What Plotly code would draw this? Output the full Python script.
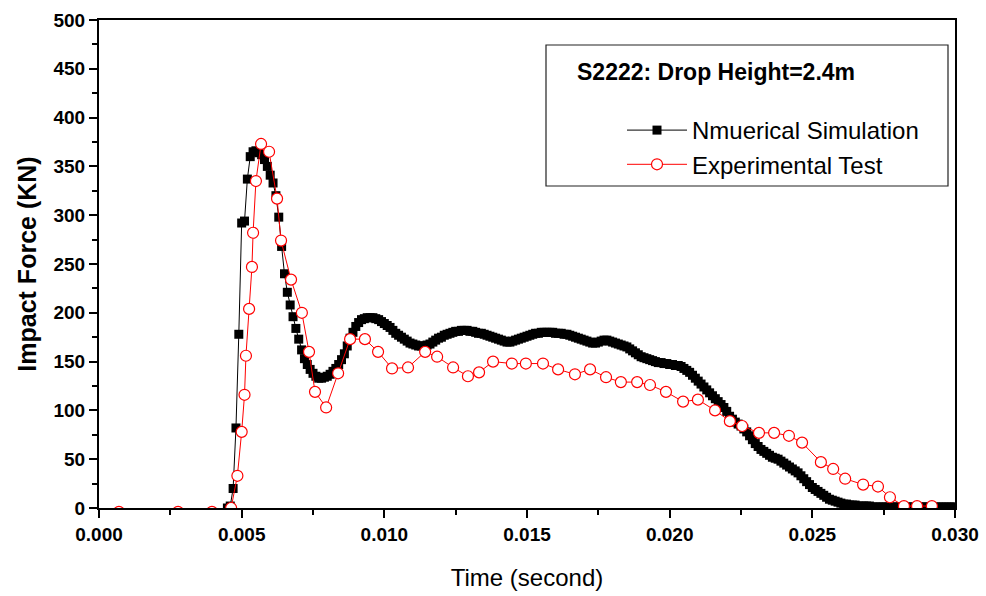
import plotly.graph_objects as go

# ---------------- data ----------------
# Numerical simulation: uniform time step 0.0001 s starting at 0.0045 s
sim_t0 = 0.0045
sim_dt = 0.0001
sim_force = [
    0, 2, 20, 82, 178, 292, 294, 337, 360, 365,            # 0.0045-0.0054
    366, 364, 362, 357, 350, 341, 333, 320, 298, 268,      # 0.0055-0.0064
    240, 221, 208, 196, 184, 173, 162, 153, 147, 142,      # 0.0065-0.0074
    138, 135, 133, 133, 134, 135, 137, 140, 143, 147,      # 0.0075-0.0084
    152, 158, 166, 174, 180, 186, 190, 193, 194, 195,      # 0.0085-0.0094
    195, 195, 194, 193, 191, 189, 187, 185, 182, 179,      # 0.0095-0.0104
    177, 175, 173, 171, 169, 168, 167, 166, 166, 166,      # 0.0105-0.0114
    167, 168, 170, 172, 174, 175, 177, 178, 179, 180,      # 0.0115-0.0124
    181, 181, 182, 182, 182, 181, 181, 180, 179, 179,      # 0.0125-0.0134
    178, 177, 176, 175, 174, 173, 172, 171, 170, 170,      # 0.0135-0.0144
    171, 172, 173, 174, 175, 176, 177, 178, 179, 179,      # 0.0145-0.0154
    180, 180, 180, 180, 180, 179, 179, 179, 178, 178,      # 0.0155-0.0164
    177, 176, 175, 174, 173, 172, 171, 170, 169, 169,      # 0.0165-0.0174
    170, 171, 172, 172, 171, 170, 169, 168, 167, 166,      # 0.0175-0.0184
    165, 163, 161, 159, 157, 155, 154, 153, 152, 151,      # 0.0185-0.0194
    150, 149, 149, 148, 148, 147, 147, 146, 146, 145,      # 0.0195-0.0204
    143, 141, 139, 136, 133, 130, 127, 124, 121, 118,      # 0.0205-0.0214
    115, 112, 109, 106, 103, 99, 94, 91, 88, 86,           # 0.0215-0.0224
    84, 81, 78, 74, 70, 66, 63, 60, 58, 56,                # 0.0225-0.0234
    54, 52, 51, 50, 48, 46, 44, 42, 40, 38,                # 0.0235-0.0244
    36, 33, 30, 27, 24, 21, 19, 17, 15, 13,                # 0.0245-0.0254
    11, 9, 8, 7, 6, 5, 4, 4, 3, 3,                         # 0.0255-0.0264
    3, 2, 2, 2, 2, 2, 1, 1, 1, 1,                          # 0.0265-0.0274
    1, 1, 1, 1, 1, 1, 1, 1, 1, 1,                          # 0.0275-0.0284
    1, 1, 1, 1, 1, 1, 1, 1, 1, 1,                          # 0.0285-0.0294
    1, 1, 1, 1, 1, 1,                                      # 0.0295-0.0300
]
sim_time = [round(sim_t0 + i * sim_dt, 6) for i in range(len(sim_force))]

# Experimental test (irregular sampling)
exp_time = [
    0.0007, 0.00277, 0.00396, 0.00463, 0.00485, 0.0050, 0.0051, 0.00515,
    0.00526, 0.00536, 0.0054, 0.0055, 0.00568, 0.00596, 0.00624, 0.00638,
    0.00673, 0.00711, 0.00736, 0.00757, 0.00796, 0.00838, 0.0088, 0.00932,
    0.00978, 0.01027, 0.01083, 0.01143, 0.01185, 0.01241, 0.01293, 0.01332,
    0.01381, 0.01447, 0.01496, 0.01556, 0.01609, 0.01668, 0.01721, 0.01777,
    0.01829, 0.01886, 0.01931, 0.01987, 0.02047, 0.02099, 0.02159, 0.02211,
    0.02254, 0.02313, 0.02366, 0.02418, 0.02464, 0.0253, 0.02573, 0.02615,
    0.02678, 0.0273, 0.02772, 0.02821, 0.02867, 0.02919,
]
exp_force = [
    -4, -4, -4, 0, 33, 78, 116, 156,
    204, 247, 282, 335, 373, 365, 317, 274,
    234, 200, 160, 119, 103, 138, 173, 173,
    160, 143, 144, 160, 155, 144, 135, 139,
    150, 148, 148, 148, 142, 137, 142, 134,
    129, 129, 126, 119, 109, 111, 100, 89,
    84, 77, 77, 74, 67, 47, 40, 30,
    24, 22, 11, 2, 2, 2,
]

x_ticks = [0.000, 0.005, 0.010, 0.015, 0.020, 0.025, 0.030]
y_ticks = [0, 50, 100, 150, 200, 250, 300, 350, 400, 450, 500]

legend_title = "S2222: Drop Height=2.4m"
sim_name = "Nmuerical Simulation"
exp_name = "Experimental Test"

FONT = "Arial, 'Liberation Sans', sans-serif"

fig = go.Figure()
fig.add_trace(go.Scatter(
    x=sim_time, y=sim_force, name=sim_name, mode="lines+markers",
    line=dict(color="black", width=1),
    marker=dict(symbol="square", size=9, color="black", line=dict(width=0)),
))
fig.add_trace(go.Scatter(
    x=exp_time, y=exp_force, name=exp_name, mode="lines+markers",
    line=dict(color="#ff0000", width=1),
    marker=dict(symbol="circle", size=11, color="white",
                line=dict(color="#ff0000", width=1.2)),
))

W, H = 986, 596
ml, mr, mt, mb = 99, 31, 20, 88
pw, ph = W - ml - mr, H - mt - mb

def px2paper(px, py):
    return (px - ml) / pw, (H - mb - py) / ph

bx0, by0 = px2paper(546, 186)
bx1, by1 = px2paper(948, 45)
tx, ty = px2paper(575, 72)
lx, ly = px2paper(622, 108)

fig.add_shape(type="rect", xref="paper", yref="paper",
              x0=bx0, y0=by0, x1=bx1, y1=by1,
              line=dict(color="#222222", width=1.2), fillcolor="rgba(0,0,0,0)")
fig.add_annotation(xref="paper", yref="paper", x=tx, y=ty,
                   xanchor="left", yanchor="middle", showarrow=False,
                   text="<b>" + legend_title + "</b>",
                   font=dict(family=FONT, size=23, color="black"))

axis_common = dict(
    showline=True, linecolor="black", linewidth=2, mirror=True,
    ticks="outside", ticklen=8, tickwidth=2, tickcolor="black",
    showgrid=False, zeroline=False, automargin=False,
    tickfont=dict(family=FONT, size=19, color="black"),
)

fig.update_layout(
    width=W, height=H,
    margin=dict(l=ml, r=mr, t=mt, b=mb),
    paper_bgcolor="white", plot_bgcolor="white",
    showlegend=True,
    legend=dict(x=lx, y=ly, xanchor="left", yanchor="top",
                bgcolor="rgba(0,0,0,0)", borderwidth=0,
                itemwidth=60, tracegroupgap=0,
                font=dict(family=FONT, size=24, color="black")),
    xaxis=dict(
        range=[0, 0.030], tickvals=x_ticks,
        ticktext=["<b>%.3f</b>" % v for v in x_ticks],
        minor=dict(dtick=0.0025, ticks="outside", ticklen=5, tickwidth=2, tickcolor="black"),
        title=dict(text="Time (second)", font=dict(family=FONT, size=24, color="black"), standoff=25),
        **axis_common,
    ),
    yaxis=dict(
        range=[0, 500], tickvals=y_ticks,
        ticktext=["<b>%d</b>" % v for v in y_ticks],
        minor=dict(dtick=25, ticks="outside", ticklen=5, tickwidth=2, tickcolor="black"),
        title=dict(text="<b>Impact Force (KN)</b>", font=dict(family=FONT, size=25, color="black"), standoff=10),
        **axis_common,
    ),
)

fig.write_html("out.html")
